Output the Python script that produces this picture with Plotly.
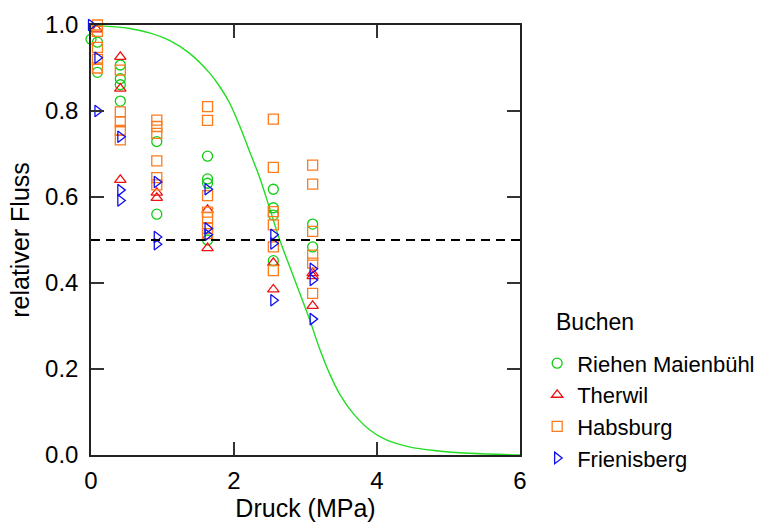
import plotly.graph_objects as go

# ---------------- data ----------------
riehen_x = [0.0, 0.09, 0.09, 0.41, 0.41, 0.41, 0.41, 0.92, 0.92, 1.63, 1.63, 1.63, 1.63,
            2.55, 2.55, 2.55, 2.55, 3.10, 3.10]
riehen_y = [0.967, 0.960, 0.890, 0.907, 0.875, 0.861, 0.823, 0.729, 0.560, 0.695, 0.642, 0.632, 0.500,
            0.618, 0.575, 0.558, 0.452, 0.537, 0.484]

therwil_x = [0.08, 0.41, 0.41, 0.41, 0.92, 0.92, 1.63, 1.63, 2.55, 2.55, 3.10, 3.10, 3.10]
therwil_y = [0.990, 0.926, 0.852, 0.640, 0.610, 0.598, 0.570, 0.481, 0.447, 0.385, 0.423, 0.416, 0.347]

habsburg_x = [0.09, 0.09, 0.09, 0.09, 0.09,
              0.41, 0.41, 0.41, 0.41, 0.41,
              0.92, 0.92, 0.92, 0.92, 0.92, 0.92,
              1.63, 1.63, 1.63, 1.63, 1.63, 1.63, 1.63,
              2.55, 2.55, 2.55, 2.55, 2.55, 2.55,
              3.10, 3.10, 3.10, 3.10, 3.10, 3.10]
habsburg_y = [1.000, 0.985, 0.948, 0.920, 0.900,
              0.895, 0.798, 0.775, 0.755, 0.733,
              0.779, 0.764, 0.748, 0.684, 0.645, 0.628,
              0.810, 0.778, 0.603, 0.565, 0.552, 0.527, 0.515,
              0.781, 0.669, 0.566, 0.535, 0.484, 0.429,
              0.674, 0.630, 0.520, 0.465, 0.446, 0.376]

frienisberg_x = [0.0, 0.09, 0.09, 0.41, 0.41, 0.41, 0.92, 0.92, 0.92, 1.63, 1.63, 1.63,
                 2.55, 2.55, 2.55, 3.10, 3.10, 3.10]
frienisberg_y = [1.000, 0.924, 0.800, 0.740, 0.616, 0.592, 0.635, 0.507, 0.490, 0.618, 0.527, 0.512,
                 0.512, 0.492, 0.360, 0.433, 0.407, 0.316]

# fitted curve
curve_x = [0.0, 0.16, 0.54, 0.83, 1.11, 1.38, 1.66, 1.80, 1.94, 2.08, 2.22, 2.36, 2.50, 2.64,
           2.78, 2.92, 3.06, 3.20, 3.34, 3.48, 3.66, 3.90, 4.13, 4.45, 4.83, 5.29, 6.0]
curve_y = [1.000, 0.998, 0.992, 0.981, 0.963, 0.934, 0.888, 0.857, 0.818, 0.765, 0.705, 0.645, 0.573, 0.500,
           0.438, 0.376, 0.314, 0.246, 0.188, 0.141, 0.098, 0.058, 0.035, 0.019, 0.010, 0.004, 0.000]

threshold = 0.5

x_ticks = [0, 2, 4, 6]
y_ticks = [0.0, 0.2, 0.4, 0.6, 0.8, 1.0]

legend_title = "Buchen"

GREEN = "#12cc12"
RED = "#ee1111"
ORANGE = "#ff7a1a"
BLUE = "#1010ee"
FONT = "Liberation Sans, Arial, sans-serif"

fig = go.Figure()

fig.add_trace(go.Scatter(x=curve_x, y=curve_y, mode="lines", line=dict(color="#22dd22", width=1.4, shape="spline"),
                         showlegend=False, hoverinfo="skip"))

series = [
    ("Riehen Maienbühl", riehen_x, riehen_y, "circle-open", GREEN, 10),
    ("Therwil", therwil_x, therwil_y, "triangle-up-open", RED, 10),
    ("Habsburg", habsburg_x, habsburg_y, "square-open", ORANGE, 10),
    ("Frienisberg", frienisberg_x, frienisberg_y, "triangle-right-open", BLUE, 10),
]
for name, xs, ys, sym, col, sz in series:
    fig.add_trace(go.Scatter(x=xs, y=ys, mode="markers", name=name, cliponaxis=False,
                             marker=dict(symbol=sym, size=sz, color=col, line=dict(color=col, width=1.3))))

fig.add_hline(y=threshold, line=dict(color="black", width=1.8, dash="9px,6px"))

axis_common = dict(showline=True, linecolor="#222", linewidth=1.5, mirror="ticks", ticks="inside",
                   ticklen=13, tickwidth=1.5, tickcolor="#333", showgrid=False, zeroline=False,
                   automargin=False,
                   tickfont=dict(family=FONT, size=24, color="black"))

fig.update_xaxes(range=[0, 6], tickvals=x_ticks, ticktext=[str(v) for v in x_ticks],
                 title=dict(text="Druck (MPa)", font=dict(family=FONT, size=25, color="black"), standoff=6),
                 ticklabelstandoff=3, **axis_common)
fig.update_yaxes(range=[0, 1], tickvals=y_ticks, ticktext=[f"{v:.1f}" for v in y_ticks],
                 title=dict(text="relativer Fluss", font=dict(family=FONT, size=25, color="black"), standoff=8),
                 ticklabelstandoff=6, **axis_common)

fig.update_layout(
    width=784, height=522,
    margin=dict(l=91, r=264, t=25, b=67, autoexpand=False),
    paper_bgcolor="white", plot_bgcolor="white",
    font=dict(family=FONT, size=22, color="black"),
    legend=dict(x=1.04, y=0.262, xanchor="left", yanchor="top",
                font=dict(family=FONT, size=22), itemwidth=30, tracegroupgap=0,
                bgcolor="rgba(0,0,0,0)"),
    annotations=[dict(text=legend_title, xref="paper", yref="paper", x=1.08, y=0.31,
                      xanchor="left", yanchor="middle", showarrow=False,
                      font=dict(family=FONT, size=23, color="black"))],
)

fig.write_html("out.html")
